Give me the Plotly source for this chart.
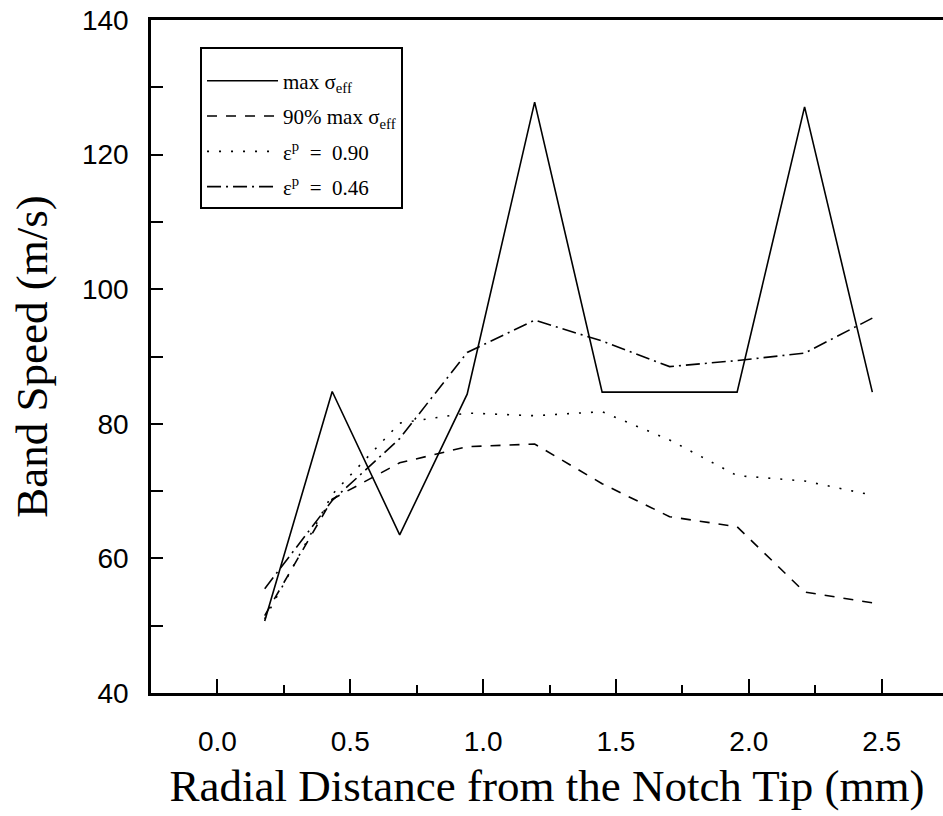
import plotly.graph_objects as go

# Data
radial_mm = [0.178, 0.432, 0.686, 0.940, 1.194, 1.448, 1.702, 1.956, 2.210, 2.465]
max_seff = [50.7, 84.8, 63.5, 84.4, 127.8, 84.7, 84.7, 84.7, 127.1, 84.7]
max90_seff = [51.5, 68.8, 74.2, 76.6, 77.0, 71.1, 66.2, 64.7, 55.0, 53.4]
eps_090 = [51.0, 69.5, 80.1, 81.6, 81.2, 81.8, 77.6, 72.3, 71.5, 69.4]
eps_046 = [55.5, 68.6, 77.8, 90.6, 95.4, 92.3, 88.5, 89.4, 90.5, 95.7]

series_names = ["max σ<sub>eff</sub>", "90% max σ<sub>eff</sub>",
                "ε<sup>p</sup>  =  0.90", "ε<sup>p</sup>  =  0.46"]
series_values = [max_seff, max90_seff, eps_090, eps_046]
series_dash = ["solid", "10px,9px", "2px,10px", "14px,5px,2px,5px"]

x_tick_vals = [0.0, 0.5, 1.0, 1.5, 2.0, 2.5]
x_tick_text = ["0.0", "0.5", "1.0", "1.5", "2.0", "2.5"]
y_tick_vals = [40, 60, 80, 100, 120, 140]

fig = go.Figure()
for i, (name, vals, dash) in enumerate(zip(series_names, series_values, series_dash)):
    fig.add_trace(go.Scatter(
        x=radial_mm, y=vals, mode="lines", name=name,
        legendgroup=f"g{i}",
        line=dict(color="black", width=1.6, dash=dash),
    ))

sans = "Liberation Sans, Arial, sans-serif"
serif = "Liberation Serif, Times New Roman, serif"

fig.update_layout(
    width=943, height=816,
    margin=dict(l=151, r=0, t=20, b=123),
    paper_bgcolor="white", plot_bgcolor="white",
    showlegend=True,
    legend=dict(
        x=0.0619, y=0.96, xanchor="left", yanchor="top",
        bordercolor="black", borderwidth=2, bgcolor="white",
        font=dict(family=serif, size=21, color="black"),
        title=dict(text="&nbsp;", font=dict(family=serif, size=9, color="white")),
        itemwidth=71, tracegroupgap=5,
        entrywidth=131, entrywidthmode="pixels",
    ),
    xaxis=dict(
        range=[-0.25, 2.731],
        tickvals=x_tick_vals, ticktext=x_tick_text,
        ticks="inside", ticklen=14, tickwidth=2, tickcolor="black",
        minor=dict(dtick=0.25, tick0=0, ticks="inside", ticklen=8, tickwidth=2, tickcolor="black"),
        showline=True, linewidth=2.5, linecolor="black", mirror=True,
        showgrid=False, zeroline=False,
        tickfont=dict(family=sans, size=28, color="black"),
        ticklabelstandoff=22,
        title=dict(text="Radial Distance from the Notch Tip (mm)",
                   font=dict(family=serif, size=45, color="black"), standoff=14),
    ),
    yaxis=dict(
        range=[40, 140],
        tickvals=y_tick_vals,
        ticks="inside", ticklen=12, tickwidth=2, tickcolor="black",
        minor=dict(dtick=10, tick0=40, ticks="inside", ticklen=12, tickwidth=2, tickcolor="black"),
        showline=True, linewidth=2.5, linecolor="black", mirror=False,
        showgrid=False, zeroline=False,
        tickfont=dict(family=sans, size=28, color="black"),
        ticklabelstandoff=14,
        title=dict(text="Band Speed (m/s)",
                   font=dict(family=serif, size=45, color="black"), standoff=21),
    ),
)

fig.write_html("out.html")
